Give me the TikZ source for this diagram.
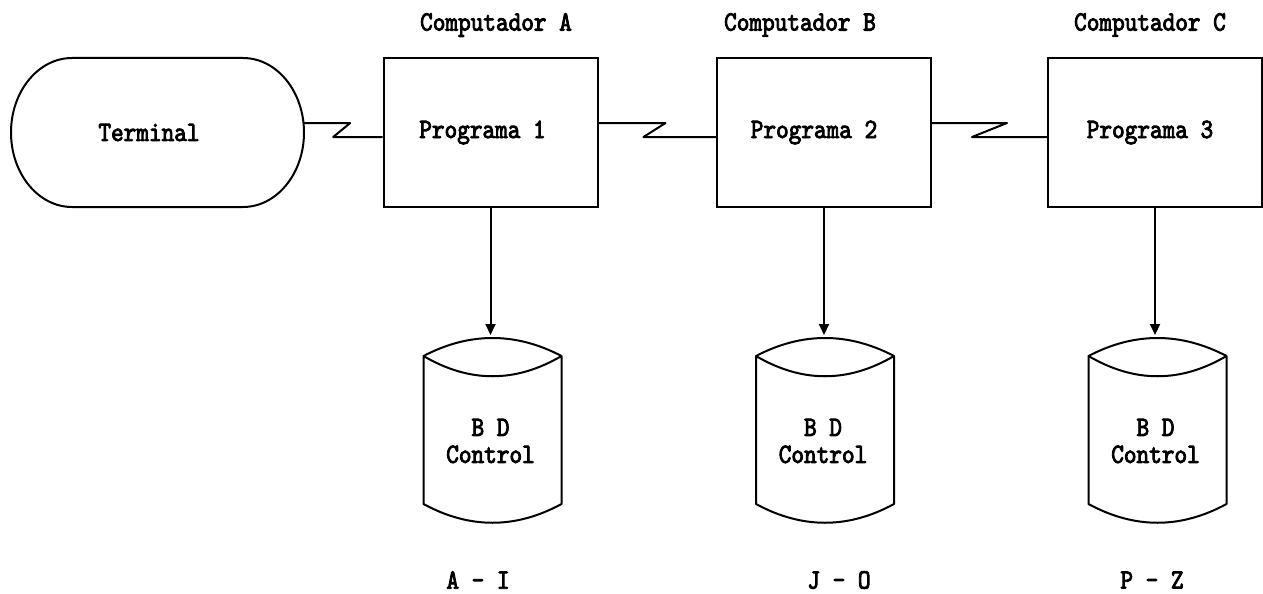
\documentclass[tikz,border=0pt]{standalone}
\usepackage{fontspec}
\newfontfamily\dm[FakeStretch=0.86,FakeBold=3]{lmmono10-regular.otf}
\usetikzlibrary{arrows.meta}
\begin{document}
\begin{tikzpicture}[x=1pt,y=-1pt,
  ln/.style={line width=2pt, line join=round},
  txt/.style={font=\dm\fontsize{28}{27}\selectfont, inner sep=0pt},
  prog/.style={draw, line width=2pt, minimum width=214pt, minimum height=148pt, inner sep=0pt},
  arr/.style={ln, -{Triangle[length=11pt,width=10pt]}},
]
\fill[white] (0,0) rectangle (1263,594);
\useasboundingbox (0,0) rectangle (1263,594);

% terminal
\node[minimum width=294pt, minimum height=149pt, inner sep=0pt,
      label={[txt,xshift=-8pt]center:Terminal}] (term) at (157,132.5) {};
\draw[ln] (72,58) -- (243,58)
  arc[start angle=-90,end angle=90,x radius=61,y radius=74.5]
  -- (72,207)
  arc[start angle=90,end angle=270,x radius=61,y radius=74.5] -- cycle;

% program boxes
\node[prog, label={[txt,xshift=-8pt]center:Programa 1}] (pa) at (490.5,132.5) {};
\node[prog, label={[txt,xshift=-10pt]center:Programa 2}] (pb) at (824,132.5) {};
\node[prog, label={[txt,xshift=-5pt]center:Programa 3}] (pc) at (1155,132.5) {};

% titles
\node[txt] (ta) at (496,25) {Computador A};
\node[txt] (tb) at (800,25) {Computador B};
\node[txt] (tc) at (1150,25) {Computador C};

% communication links
\draw[ln] ([yshift=9.5pt]term.east) -- ++(46,0) -- ++(-17,14) -- ([yshift=-4.5pt]pa.west);
\draw[ln] ([yshift=9.5pt]pa.east) -- ++(67,0) -- ++(-22,14) -- ([yshift=-4.5pt]pb.west);
\draw[ln] ([yshift=9.5pt]pb.east) -- ++(75,0) -- ++(-35,14) -- ([yshift=-4.5pt]pc.west);

% databases
\foreach \nm/\cx/\lx/\lab in {da/492.5/478/A - I, db/825/839/J - O, dc/1157.5/1152/P - Z}{
  \coordinate (\nm-top) at (\cx,335);
  \draw[ln] (\cx-69,356) .. controls (\cx-23,332) and (\cx+23,332) .. (\cx+69,356)
    .. controls (\cx+23,383) and (\cx-23,383) .. (\cx-69,356)
    -- (\cx-69,504) .. controls (\cx-23,529) and (\cx+23,529) .. (\cx+69,504)
    -- (\cx+69,356);
  \node[txt, align=center] (\nm) at (\cx-2,441) {B D\\Control};
  \node[txt] (\nm-lab) at (\lx,580) {\lab};
}

% arrows
\draw[arr] (pa.south) -- (pa.south |- da-top);
\draw[arr] (pb.south) -- (pb.south |- db-top);
\draw[arr] (pc.south) -- (pc.south |- dc-top);
\end{tikzpicture}
\end{document}
